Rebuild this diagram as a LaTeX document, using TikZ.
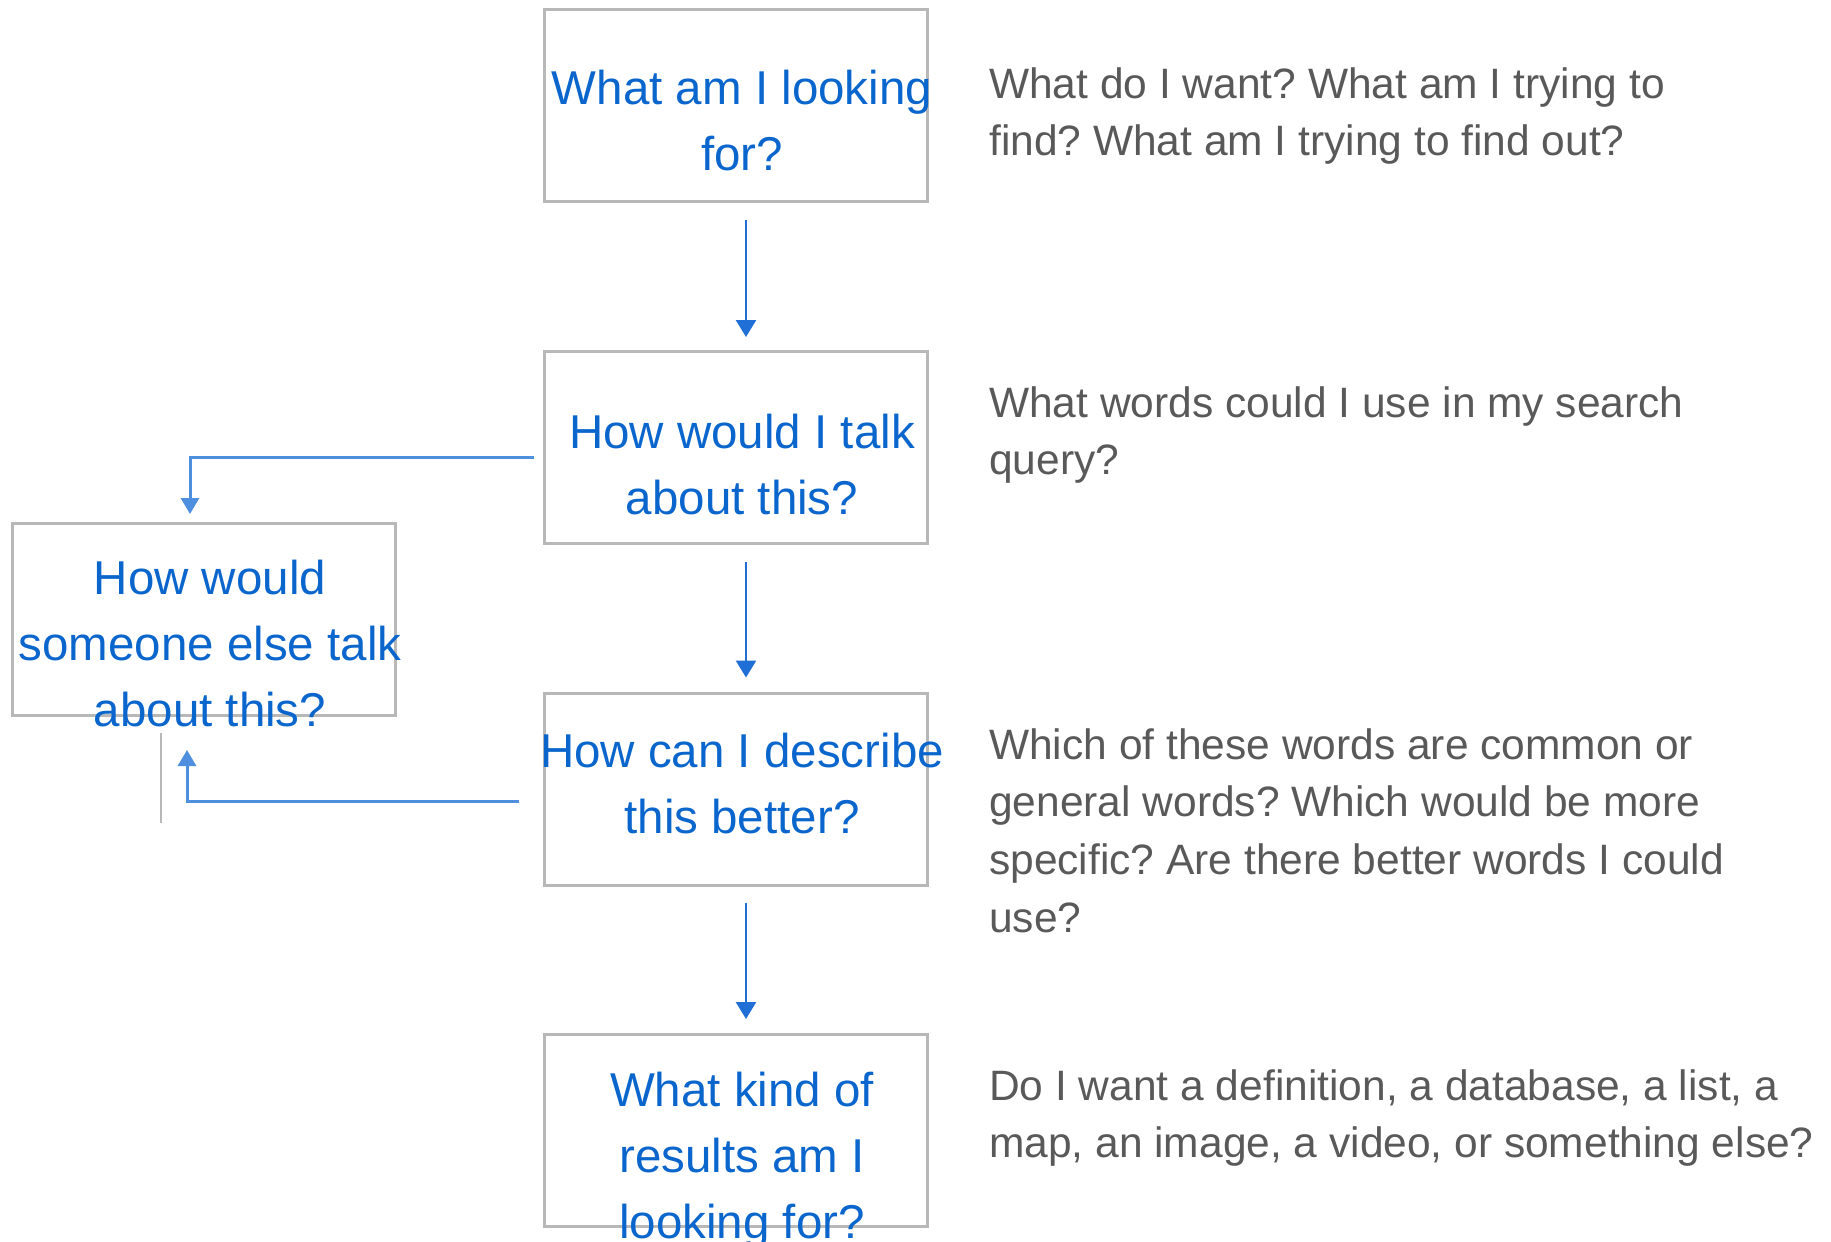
\documentclass[tikz,border=0pt]{standalone}
\usepackage{fontspec}
\setmainfont{Liberation Sans}
\usetikzlibrary{arrows.meta,positioning}
\definecolor{qblue}{HTML}{0A66CC}
\definecolor{arrowblue}{HTML}{1F6FD6}
\definecolor{sideblue}{HTML}{4F8FDF}
\definecolor{boxgray}{HTML}{B8B8B8}
\definecolor{notegray}{HTML}{595959}
\frenchspacing

\begin{document}
\begin{tikzpicture}[x=1pt,y=-1pt,
  qbox/.style={rectangle,draw=boxgray,line width=3pt,minimum width=383pt,minimum height=192pt,inner sep=0pt},
  qtext/.style={anchor=north,align=center,inner sep=0pt,text=qblue,font=\fontsize{47.5}{66}\selectfont},
  note/.style={anchor=north west,align=left,inner sep=0pt,text=notegray,font=\fontsize{42.5}{57.8}\selectfont},
  flowarrow/.style={draw=arrowblue,line width=2.5pt,-{Triangle[width=20pt,length=17pt]}},
  sidearrow/.style={draw=sideblue,line width=3pt,-{Triangle[width=18pt,length=16pt]}}]
\useasboundingbox (0,0) rectangle (1831,1242);
% boxes
\node[qbox] (b1) at (736,105.5) {};
\node[qbox] (b2) at (736,447.5) {};
\node[qbox] (b3) at (736,789) {};
\node[qbox] (b4) at (736,1130.5) {};
\node[qbox] (bl) at (204,619.5) {};
% questions
\begin{scope}[every node/.style={qtext}]
\node (t1) at (742,57.8) {\strut What am I looking\\for?};
\node (t2) at (742,401.8) {\strut How would I talk\\about this?};
\node (t3) at (742,720.8) {\strut How can I describe\\this better?};
\node (t4) at (742,1059.8) {\strut What kind of\\results am I\\looking for?};
\node (tl) at (210,547.8) {\strut How would\\someone else talk\\about this?};
\end{scope}
% notes
\begin{scope}[every node/.style={note}]
\node (n1) at (989,57.5) {\strut What do I want? What am I trying to\\find? What am I trying to find out?};
\node (n2) at (989,376.5) {\strut What words could I use in my search\\query?};
\node (n3) at (989,718.5) {\strut Which of these words are common or\\general words? Which would be more\\specific? Are there better words I could\\use?};
\node (n4) at (989,1059.5) {\strut Do I want a definition, a database, a list, a\\map, an image, a video, or something else?};
\end{scope}
% arrows
\draw[flowarrow,shorten <=17pt,shorten >=13pt] ([xshift=10pt]b1.south) -- ([xshift=10pt]b2.north);
\draw[flowarrow,shorten <=17pt,shorten >=14pt] ([xshift=10pt]b2.south) -- ([xshift=10pt]b3.north);
\draw[flowarrow,shorten <=16pt,shorten >=14pt] ([xshift=10pt]b3.south) -- ([xshift=10pt]b4.north);
\draw[sidearrow] ([xshift=-9pt,yshift=-9.5pt]b2.west) -| ([xshift=-14pt,yshift=8pt]bl.north);
\draw[sidearrow] ([xshift=-24pt,yshift=-12pt]b3.west) -| ([xshift=-17pt,yshift=-33pt]bl.south);
\coordinate (g1) at (161,733);
\coordinate (g2) at (161,823);
\draw[boxgray,line width=1.2pt] (g1) -- (g2);
\end{tikzpicture}
\end{document}
